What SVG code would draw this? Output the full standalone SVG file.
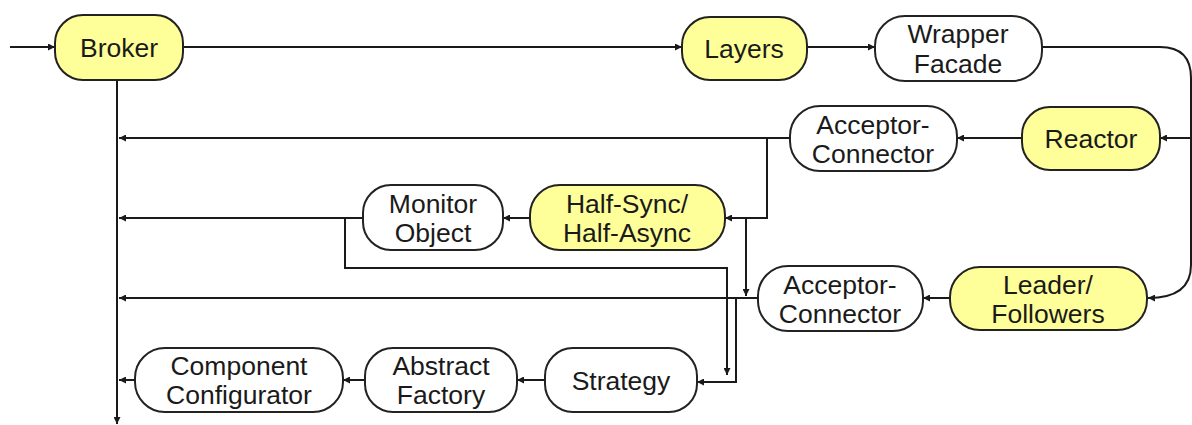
<svg xmlns="http://www.w3.org/2000/svg" width="1192" height="425" viewBox="0 0 1192 425">
<defs>
<marker id="ah" viewBox="0 0 10 10" refX="10" refY="5" markerWidth="9" markerHeight="7" markerUnits="userSpaceOnUse" orient="auto">
<path d="M0,0 L10,5 L0,10 z" fill="#1a1a1a"/>
</marker>
</defs>
<style>
.n rect{stroke:#222;stroke-width:2}
.y rect{fill:#FFFF99}
.w rect{fill:#fff}
text{font-family:"Liberation Sans",Arial,sans-serif;font-size:26.5px;fill:#1a1a1a;text-anchor:middle}
.c path{fill:none;stroke:#1a1a1a;stroke-width:2}
.a{marker-end:url(#ah)}
</style>
<rect width="1192" height="425" fill="#fff"/>
<g class="c">
<path class="a" d="M10,47 H55"/>
<path class="a" d="M183,47 H682"/>
<path class="a" d="M807,47 H875"/>
<path class="a" d="M1042,47 H1160 Q1191,47 1191,78 V265 Q1191,298 1148,298"/>
<path class="a" d="M1192,138 H1160"/>
<path class="a" d="M1022,138 H957"/>
<path class="a" d="M790,138 H119"/>
<path class="a" d="M767,138 V218 H725"/>
<path class="a" d="M746,218 V296"/>
<path class="a" d="M530,218 H503"/>
<path class="a" d="M363,218 H119"/>
<path class="a" d="M345,218 V268 H727 V375"/>
<path class="a" d="M950,298 H923"/>
<path class="a" d="M758,298 H119"/>
<path class="a" d="M736,298 V382 H697"/>
<path class="a" d="M545,380 H517"/>
<path class="a" d="M365,380 H343"/>
<path class="a" d="M135,380 H119"/>
<path class="a" d="M117,80 V424"/>
</g>
<g id="broker" class="n y"><rect x="55" y="15" width="128" height="65" rx="28"/><text x="119" y="57">Broker</text></g>
<g id="layers" class="n y"><rect x="682" y="17" width="125" height="63" rx="28"/><text x="744" y="58">Layers</text></g>
<g id="wrapper" class="n w"><rect x="875" y="16" width="167" height="65" rx="30"/><text x="958" y="43">Wrapper</text><text x="958" y="73">Facade</text></g>
<g id="reactor" class="n y"><rect x="1022" y="107" width="138" height="63" rx="28"/><text x="1091" y="148">Reactor</text></g>
<g id="ac1" class="n w"><rect x="790" y="106" width="167" height="65" rx="30"/><text x="873" y="134">Acceptor-</text><text x="873" y="163">Connector</text></g>
<g id="halfsync" class="n y"><rect x="530" y="185" width="195" height="65" rx="30"/><text x="627" y="213">Half-Sync/</text><text x="627" y="242">Half-Async</text></g>
<g id="monitor" class="n w"><rect x="363" y="185" width="140" height="65" rx="28"/><text x="433" y="213">Monitor</text><text x="433" y="242">Object</text></g>
<g id="ac2" class="n w"><rect x="758" y="266" width="165" height="65" rx="30"/><text x="840" y="294">Acceptor-</text><text x="840" y="323">Connector</text></g>
<g id="leader" class="n y"><rect x="950" y="267" width="197" height="63" rx="30"/><text x="1048" y="294">Leader/</text><text x="1048" y="323">Followers</text></g>
<g id="strategy" class="n w"><rect x="545" y="348" width="152" height="64" rx="28"/><text x="621" y="390">Strategy</text></g>
<g id="factory" class="n w"><rect x="365" y="348" width="152" height="64" rx="28"/><text x="441" y="375">Abstract</text><text x="441" y="404">Factory</text></g>
<g id="configurator" class="n w"><rect x="135" y="348" width="208" height="64" rx="30"/><text x="239" y="375">Component</text><text x="239" y="404">Configurator</text></g>
</svg>
